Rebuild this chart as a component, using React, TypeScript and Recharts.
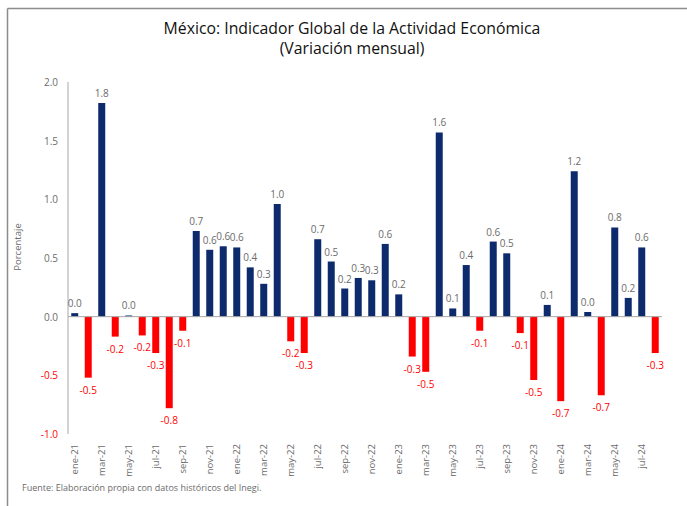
import React from "react";
import { BarChart, Bar, XAxis, YAxis, Cell, LabelList, ReferenceLine } from "recharts";

// Monthly change of the IGAE, Jan 2021 – Aug 2024
const months = [
  "ene-21", "feb-21", "mar-21", "abr-21", "may-21", "jun-21", "jul-21", "ago-21", "sep-21", "oct-21", "nov-21", "dic-21",
  "ene-22", "feb-22", "mar-22", "abr-22", "may-22", "jun-22", "jul-22", "ago-22", "sep-22", "oct-22", "nov-22", "dic-22",
  "ene-23", "feb-23", "mar-23", "abr-23", "may-23", "jun-23", "jul-23", "ago-23", "sep-23", "oct-23", "nov-23", "dic-23",
  "ene-24", "feb-24", "mar-24", "abr-24", "may-24", "jun-24", "jul-24", "ago-24",
];

const variation = [
  0.03, -0.52, 1.82, -0.17, 0.01, -0.16, -0.31, -0.78, -0.12, 0.73, 0.57, 0.6,
  0.59, 0.42, 0.28, 0.96, -0.21, -0.31, 0.66, 0.47, 0.24, 0.33, 0.31, 0.62,
  0.19, -0.34, -0.47, 1.57, 0.07, 0.44, -0.12, 0.64, 0.54, -0.14, -0.54, 0.1,
  -0.72, 1.24, 0.04, -0.67, 0.76, 0.16, 0.59, -0.31,
];

const yTicks = [-1, -0.5, 0, 0.5, 1, 1.5, 2];

const data = months.map((m, i) => ({ mes: m, valor: variation[i] }));

const NAVY = "#0c2a6c";
const RED = "#ff0000";
const GRAY_TEXT = "#6b6b6b";
const FONT = "'Open Sans', 'Liberation Sans', sans-serif";

const YTick = (props: any) => {
  const { x, y, payload } = props;
  const v = payload.value as number;
  return (
    <text x={x - 2} y={y} dy={4} textAnchor="end" fontSize={10} fontFamily={FONT}
      fill={v < 0 ? RED : GRAY_TEXT}>
      {v.toFixed(1)}
    </text>
  );
};

const XTick = (props: any) => {
  const { x, y, payload } = props;
  return (
    <text x={0} y={0} transform={`translate(${x + 3},${y + 2}) rotate(-90)`} textAnchor="end"
      fontSize={9.5} fontFamily={FONT} fill={GRAY_TEXT}>
      {payload.value}
    </text>
  );
};

const ValueLabel = (props: any) => {
  const { x, y, width, height, value } = props;
  const v = value as number;
  const cx = Number(x) + Number(width) / 2;
  const top = Math.min(Number(y), Number(y) + Number(height));
  const bottom = Math.max(Number(y), Number(y) + Number(height));
  if (v >= 0) {
    return (
      <text x={cx} y={top - 6} textAnchor="middle" fontSize={10} fontFamily={FONT} fill={GRAY_TEXT}>
        {v.toFixed(1)}
      </text>
    );
  }
  return (
    <text x={cx} y={bottom + 16} textAnchor="middle" fontSize={10} fontFamily={FONT} fill={RED}>
      {v.toFixed(1)}
    </text>
  );
};

export default function App() {
  return (
    <div style={{ position: "absolute", left: 0, top: 0, width: 687, height: 506, background: "#fff" }}>
      <svg width={687} height={506} style={{ position: "absolute", left: 0, top: 0 }}>
        <line x1={7.5} y1={8.5} x2={687} y2={8.5} stroke="#8c8c8c" strokeWidth={1.5} />
        <line x1={7.5} y1={8.5} x2={7.5} y2={506} stroke="#8c8c8c" strokeWidth={1.5} />
        <text x={352} y={34} textAnchor="middle" fontSize={15.8} fontFamily={FONT} fill="#111">
          México: Indicador Global de la Actividad Económica
        </text>
        <text x={352} y={54} textAnchor="middle" fontSize={15.8} fontFamily={FONT} fill="#111">
          (Variación mensual)
        </text>
        <text x={0} y={0} transform="translate(21,247) rotate(-90)" textAnchor="middle" fontSize={9.5}
          fontFamily={FONT} fill={GRAY_TEXT}>
          Porcentaje
        </text>
        <text x={22} y={491} fontSize={9} fontFamily={FONT} fill={GRAY_TEXT}>
          Fuente: Elaboración propia con datos históricos del Inegi.
        </text>
      </svg>
      <div style={{ position: "absolute", left: 0, top: 0 }}>
        <BarChart width={687} height={506} data={data}
          margin={{ top: 82, right: 25, bottom: 0, left: 28 }} barCategoryGap="24%">
          <XAxis dataKey="mes" interval={1} tick={<XTick />} axisLine={false} tickLine={false} height={72} />
          <YAxis domain={[-1, 2]} ticks={yTicks} width={40} tick={<YTick />}
            axisLine={{ stroke: "#a6a6a6" }} tickLine={false} allowDataOverflow />
          <ReferenceLine y={0} stroke="#a6a6a6" strokeWidth={1} />
          <Bar dataKey="valor" isAnimationActive={false}>
            {data.map((d, i) => (
              <Cell key={i} fill={d.valor < 0 ? RED : NAVY} />
            ))}
            <LabelList dataKey="valor" content={<ValueLabel />} />
          </Bar>
        </BarChart>
      </div>
    </div>
  );
}
